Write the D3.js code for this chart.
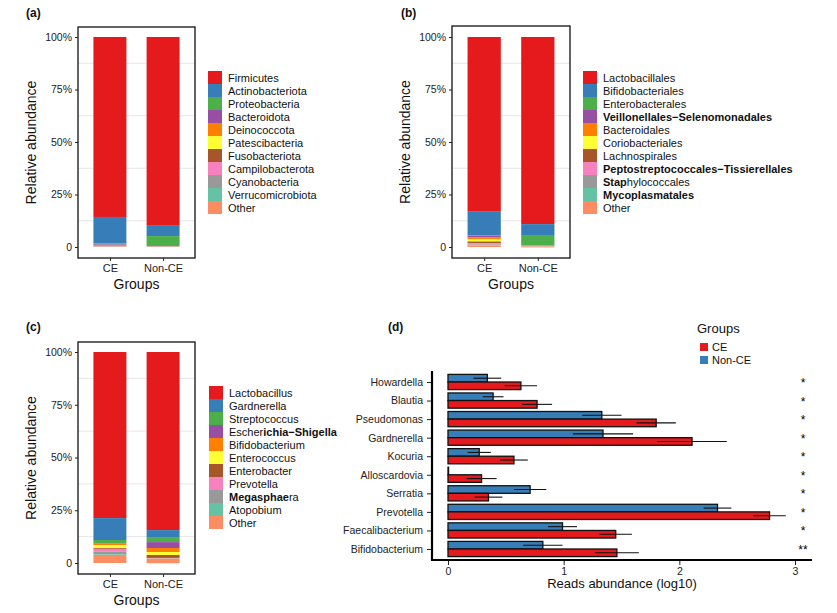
<!DOCTYPE html>
<html><head><meta charset="utf-8">
<script src="https://cdn.jsdelivr.net/npm/d3@7"></script>
<style>
body{margin:0;background:#fff;}
text{font-family:"Liberation Sans",Arial,Helvetica,sans-serif;}
</style></head>
<body><svg id="c" width="837" height="613"></svg>
<script>
// ---------- DATA ----------
const groups = ["CE", "Non-CE"];
const yTickValues = [0, 25, 50, 75, 100];
const yTickLabels = ["0", "25%", "50%", "75%", "100%"];
const stackColors = ["#E41A1C","#377EB8","#4DAF4A","#984EA3","#FF7F00","#FFFF33","#A65628","#F781BF","#999999","#66C2A5","#FC8D62"];

const phylumNames = ["Firmicutes","Actinobacteriota","Proteobacteria","Bacteroidota","Deinococcota","Patescibacteria","Fusobacteriota","Campilobacterota","Cyanobacteria","Verrucomicrobiota","Other"];
const phylumCE    = [85.7, 12.5, 0.6, 0.5, 0.05, 0.05, 0.1, 0.2, 0.1, 0.05, 0.15];
const phylumNonCE = [89.9, 4.9, 4.7, 0.1, 0.02, 0.02, 0.04, 0.1, 0.1, 0.02, 0.1];

const orderNames = ["Lactobacillales","Bifidobacteriales","Enterobacterales","Veillonellales\u2212Selenomonadales","Bacteroidales","Coriobacteriales","Lachnospirales","Peptostreptococcales\u2212Tissierellales","Staphylococcales","Mycoplasmatales","Other"];
const orderCE    = [82.9, 11.4, 0.3, 0.9, 0.9, 1.0, 0.8, 0.6, 0.4, 0.2, 0.6];
const orderNonCE = [89.1, 5.2, 5.0, 0.1, 0.05, 0.05, 0.05, 0.1, 0.1, 0.05, 0.4];

const genusNames = ["Lactobacillus","Gardnerella","Streptococcus","Escherichia\u2212Shigella","Bifidobacterium","Enterococcus","Enterobacter","Prevotella","Megasphaera","Atopobium","Other"];
const genusCE    = [78.7, 10.4, 1.4, 0.3, 0.7, 1.4, 0.4, 1.2, 1.4, 0.3, 3.8];
const genusNonCE = [84.4, 3.3, 2.4, 2.8, 1.9, 1.4, 1.4, 0.1, 0.1, 0.1, 2.2];

// bold fragments of legend labels (as they appear in the picture)
const legendBold = {
  "Veillonellales\u2212Selenomonadales": [["Veillonellales\u2212Selenomonadales", true]],
  "Peptostreptococcales\u2212Tissierellales": [["Peptostreptococcales\u2212Tissierellales", true]],
  "Staphylococcales": [["Stap", true], ["hylococcales", false]],
  "Mycoplasmatales": [["Mycoplasmatales", true]],
  "Escherichia\u2212Shigella": [["Escher", false], ["ichia\u2212Shigella", true]],
  "Megasphaera": [["Megasphae", true], ["ra", false]]
};

// panel (d)
const genera = ["Howardella","Blautia","Pseudomonas","Gardnerella","Kocuria","Alloscardovia","Serratia","Prevotella","Faecalibacterium","Bifidobacterium"];
const readsCE       = [0.63, 0.77, 1.80, 2.11, 0.57, 0.29, 0.35, 2.78, 1.45, 1.46];
const readsCEErr    = [0.14, 0.13, 0.17, 0.30, 0.12, 0.13, 0.12, 0.14, 0.14, 0.19];
const readsNonCE    = [0.34, 0.39, 1.33, 1.34, 0.27, 0.005, 0.71, 2.33, 0.99, 0.82];
const readsNonCEErr = [0.12, 0.09, 0.17, 0.26, 0.10, 0, 0.14, 0.12, 0.125, 0.17];
const signif = ["*","*","*","*","*","*","*","*","*","**"];
const xTicksD = [0, 1, 2, 3];
const dGroups = ["CE", "Non-CE"];
const dColors = ["#E41A1C", "#377EB8"];

// ---------- DRAW ----------
const svg = d3.select("#c");
const txt = "#222";

function stackPanel(cfg) {
  const g = svg.append("g");
  const x = d3.scalePoint().domain(groups).range([cfg.x0, cfg.x1]).padding(0.6);
  const y = d3.scaleLinear().domain([0, 100]).range([cfg.yb, cfg.yt]);
  const bw = x.step() * 0.62;
  [12.5, 37.5, 62.5, 87.5].forEach(v => {
    g.append("line").attr("x1", cfg.x0).attr("x2", cfg.x1).attr("y1", y(v)).attr("y2", y(v))
      .attr("stroke", "#e6e6e6").attr("stroke-width", 1);
  });
  groups.forEach((grp, gi) => {
    const vals = gi === 0 ? cfg.ce : cfg.nonce;
    let top = 100;
    vals.forEach((v, i) => {
      g.append("rect").attr("x", x(grp) - bw / 2).attr("width", bw)
        .attr("y", y(top)).attr("height", Math.max(0, y(top - v) - y(top)))
        .attr("fill", stackColors[i]);
      top -= v;
    });
  });
  g.append("rect").attr("x", cfg.x0).attr("y", cfg.ft).attr("width", cfg.x1 - cfg.x0)
    .attr("height", cfg.fb - cfg.ft).attr("fill", "none").attr("stroke", "#222").attr("stroke-width", 1.4);
  const ya = g.append("g").attr("transform", `translate(${cfg.x0},0)`)
    .call(d3.axisLeft(y).tickValues(yTickValues).tickFormat((d, i) => yTickLabels[i]).tickSize(3).tickPadding(3));
  ya.select(".domain").remove();
  ya.selectAll("text").attr("font-size", 10.5).attr("fill", txt).style("font-family", '"Liberation Sans",Arial,sans-serif');
  ya.selectAll("line").attr("stroke", "#222");
  const xa = g.append("g").attr("transform", `translate(0,${cfg.fb})`)
    .call(d3.axisBottom(x).tickSize(3).tickPadding(3));
  xa.select(".domain").remove();
  xa.selectAll("text").attr("font-size", 11).attr("fill", txt).style("font-family", '"Liberation Sans",Arial,sans-serif');
  xa.selectAll("line").attr("stroke", "#222");
  g.append("text").attr("x", (cfg.x0 + cfg.x1) / 2).attr("y", cfg.fb + 31).attr("text-anchor", "middle")
    .attr("font-size", 14).attr("fill", "#111").text("Groups");
  g.append("text").attr("transform", `translate(${cfg.ylabX},${(cfg.ft + cfg.fb) / 2}) rotate(-90)`)
    .attr("text-anchor", "middle").attr("font-size", 14).attr("fill", "#111").text("Relative abundance");
  g.append("text").attr("x", cfg.tagX).attr("y", cfg.tagY).attr("font-size", 12).attr("font-weight", "bold")
    .attr("fill", "#111").text(cfg.tag);
  cfg.names.forEach((n, i) => {
    const ly = cfg.legY + i * 13;
    g.append("rect").attr("x", cfg.legX).attr("y", ly).attr("width", 14).attr("height", 13).attr("fill", stackColors[i]);
    const t = g.append("text").attr("x", cfg.legX + 20).attr("y", ly + 10.5).attr("font-size", 11).attr("fill", "#111");
    if (legendBold[n]) {
      legendBold[n].forEach(([s, b]) => t.append("tspan").attr("font-weight", b ? "bold" : "normal").text(s));
    } else t.text(n);
  });
}

stackPanel({tag: "(a)", tagX: 26, tagY: 17, x0: 78, x1: 195, ft: 27, fb: 258, yt: 37, yb: 247,
  ylabX: 36, legX: 208, legY: 71, names: phylumNames, ce: phylumCE, nonce: phylumNonCE});
stackPanel({tag: "(b)", tagX: 401, tagY: 17, x0: 452, x1: 570, ft: 26, fb: 258, yt: 37, yb: 247,
  ylabX: 410, legX: 583, legY: 71, names: orderNames, ce: orderCE, nonce: orderNonCE});
stackPanel({tag: "(c)", tagX: 26, tagY: 331, x0: 78, x1: 195, ft: 342, fb: 574, yt: 352, yb: 563,
  ylabX: 36, legX: 209, legY: 386, names: genusNames, ce: genusCE, nonce: genusNonCE});

// ---------- PANEL (d) ----------
(function () {
  const g = svg.append("g");
  const x = d3.scaleLinear().domain([0, 3]).range([448, 795]);
  const y = d3.scalePoint().domain(genera).range([382, 549]);
  const sub = d3.scaleBand().domain(["Non-CE", "CE"]).range([-7.6, 7.6]);
  const axL = 432, axR = 812, axB = 560, axT = 371;

  genera.forEach((gn, i) => {
    const rows = [
      {grp: "Non-CE", v: readsNonCE[i], e: readsNonCEErr[i], c: dColors[1]},
      {grp: "CE", v: readsCE[i], e: readsCEErr[i], c: dColors[0]}
    ];
    rows.forEach(r => {
      const yy = y(gn) + sub(r.grp);
      g.append("rect").attr("x", x(0)).attr("y", yy).attr("width", Math.max(0.3, x(r.v) - x(0)))
        .attr("height", sub.bandwidth()).attr("fill", r.c).attr("stroke", "#111").attr("stroke-width", 1.3);
    });
    rows.forEach(r => {
      if (r.e <= 0) return;
      const yc = y(gn) + sub(r.grp) + sub.bandwidth() / 2;
      g.append("line").attr("x1", x(r.v - r.e)).attr("x2", x(r.v + r.e)).attr("y1", yc).attr("y2", yc)
        .attr("stroke", "#111").attr("stroke-width", 1.1);
    });
    g.append("text").attr("x", 803).attr("y", y(gn) + 5).attr("text-anchor", "middle")
      .attr("font-size", 12).style("fill", "#000").text(signif[i]);
  });

  g.append("line").attr("x1", axL).attr("x2", axL).attr("y1", axT).attr("y2", axB + 1)
    .attr("stroke", "#000").attr("stroke-width", 2.2);
  g.append("line").attr("x1", axL - 1).attr("x2", axR).attr("y1", axB).attr("y2", axB)
    .attr("stroke", "#000").attr("stroke-width", 2.2);
  const ya = g.append("g").attr("transform", `translate(${axL - 1},0)`)
    .call(d3.axisLeft(y).tickSize(4).tickPadding(4));
  ya.select(".domain").remove();
  ya.selectAll("text").attr("font-size", 10.5).attr("fill", txt).style("font-family", '"Liberation Sans",Arial,sans-serif');
  ya.selectAll("line").attr("stroke", "#222");
  const xa = g.append("g").attr("transform", `translate(0,${axB + 1})`)
    .call(d3.axisBottom(x).tickValues(xTicksD).tickFormat(d3.format("d")).tickSize(4).tickPadding(3));
  xa.select(".domain").remove();
  xa.selectAll("text").attr("font-size", 10.5).attr("fill", txt).style("font-family", '"Liberation Sans",Arial,sans-serif');
  xa.selectAll("line").attr("stroke", "#222");

  g.append("text").attr("x", 622).attr("y", 588).attr("text-anchor", "middle").attr("font-size", 13)
    .attr("fill", "#111").text("Reads abundance (log10)");
  g.append("text").attr("x", 388).attr("y", 331).attr("font-size", 12).attr("font-weight", "bold")
    .attr("fill", "#111").text("(d)");

  g.append("text").attr("x", 697).attr("y", 333).attr("font-size", 13).attr("fill", "#111").text("Groups");
  dGroups.forEach((gr, i) => {
    const ly = 343 + i * 13;
    g.append("rect").attr("x", 700).attr("y", ly).attr("width", 8).attr("height", 8).attr("fill", dColors[i]);
    g.append("text").attr("x", 712).attr("y", ly + 8).attr("font-size", 11).attr("fill", "#111").text(gr);
  });
})();
</script></body></html>
